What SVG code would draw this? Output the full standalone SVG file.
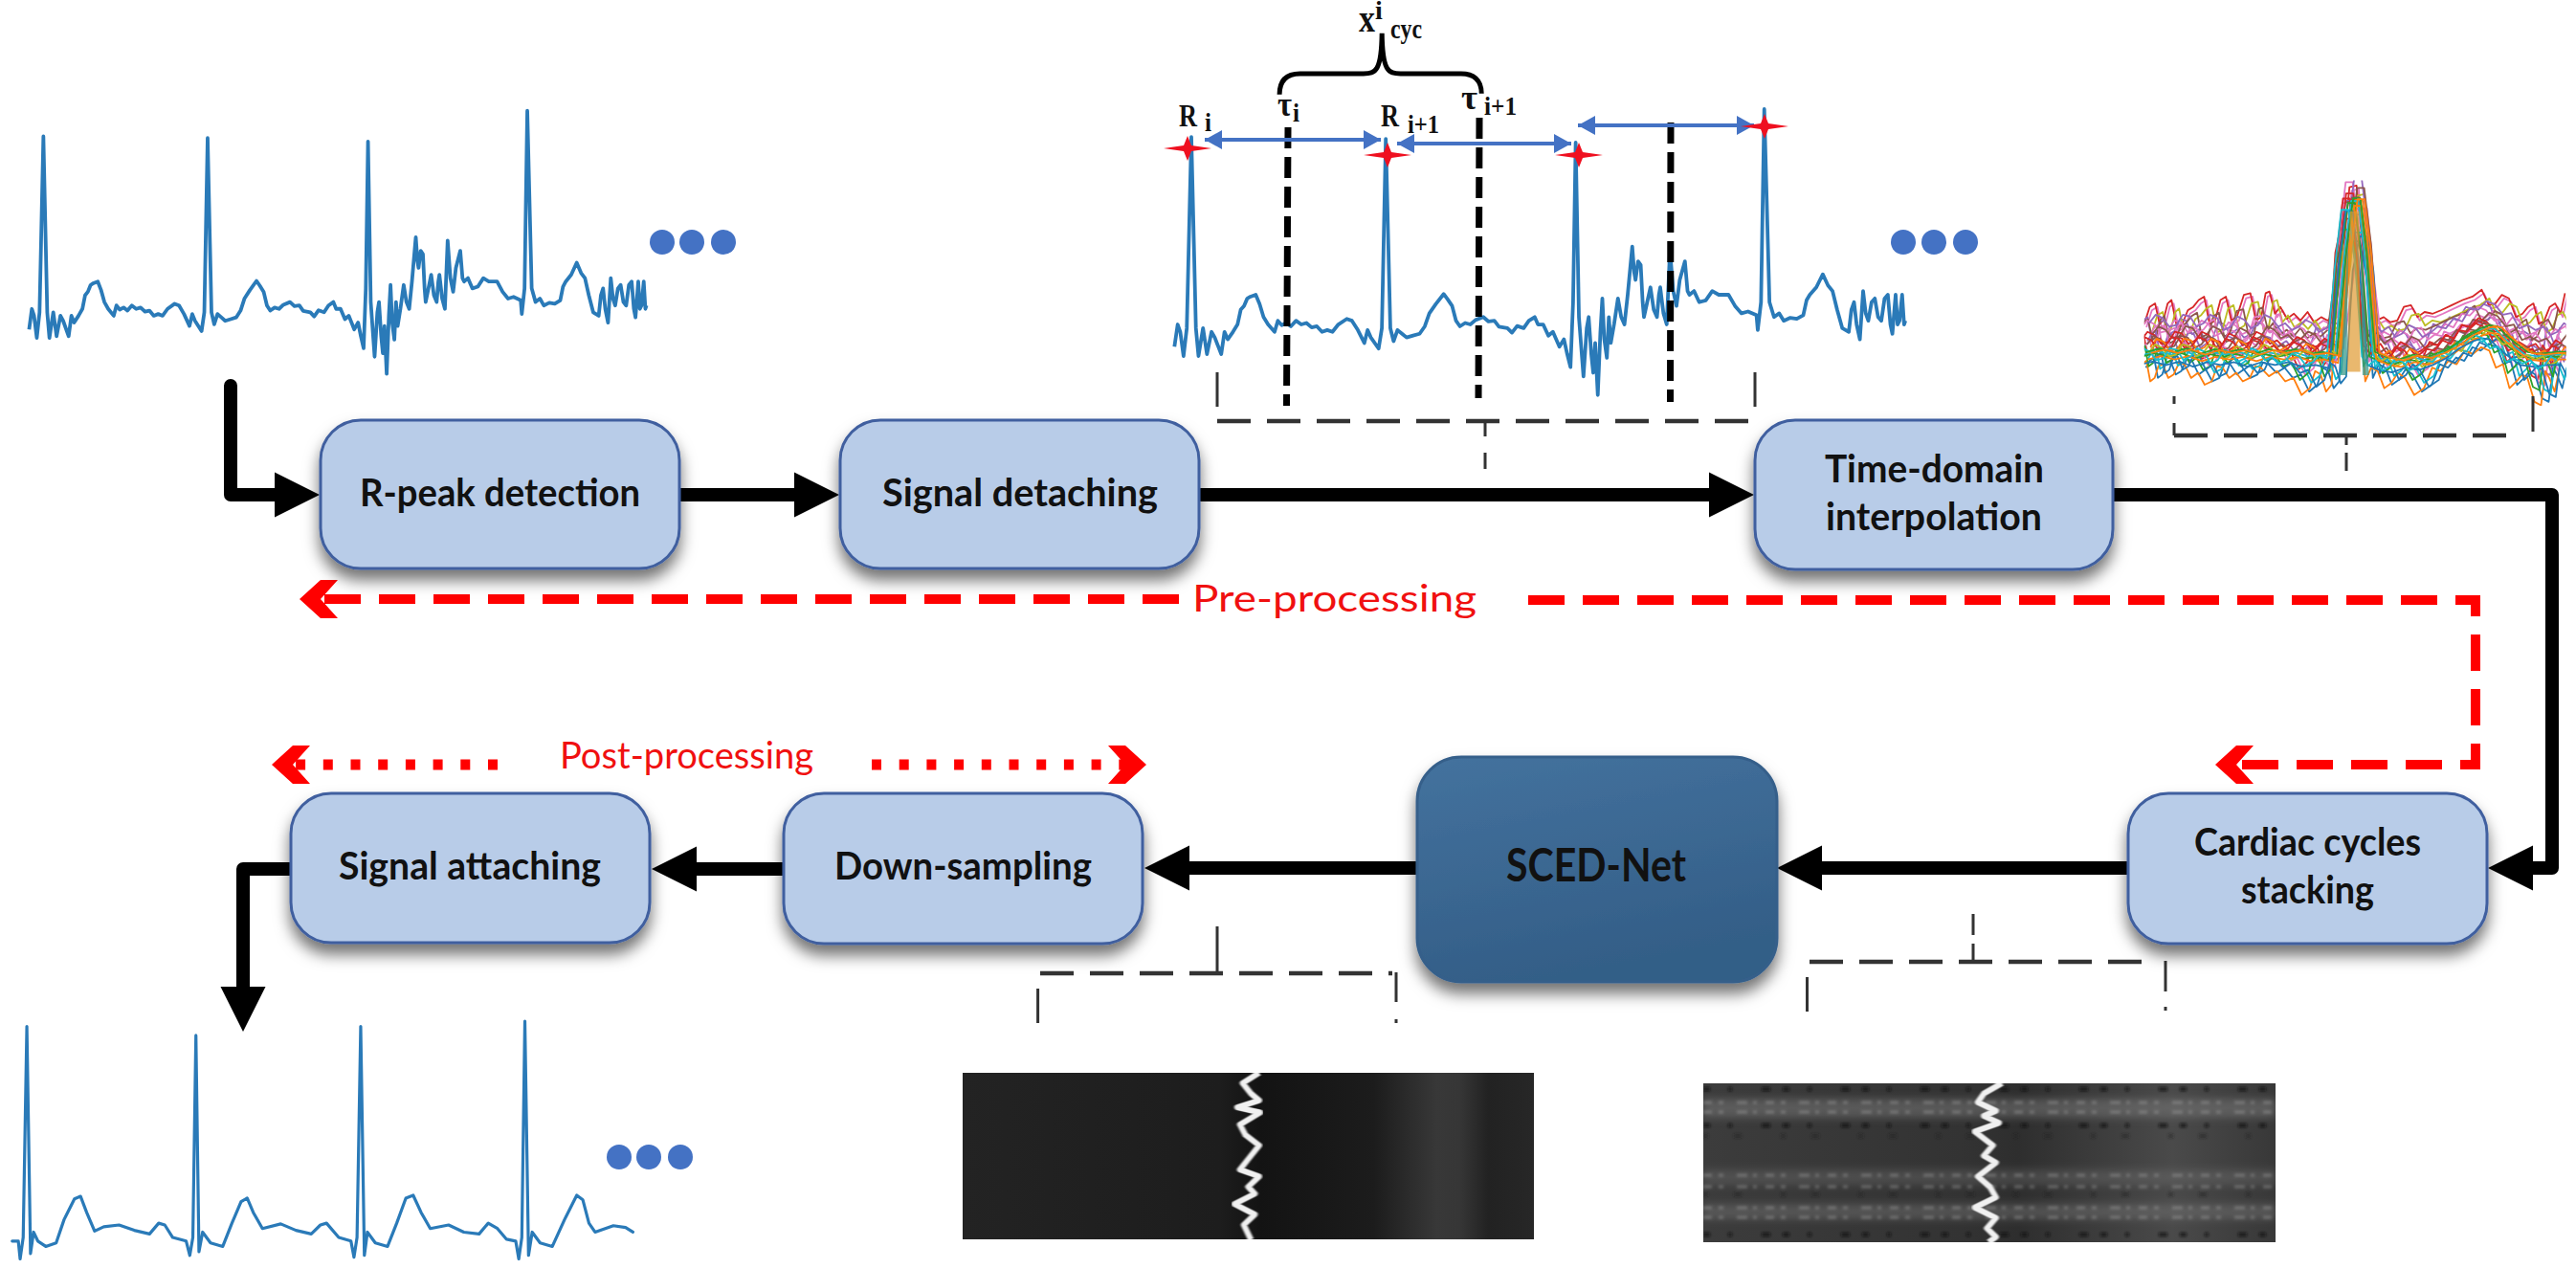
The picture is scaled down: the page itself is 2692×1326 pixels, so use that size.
<svg xmlns="http://www.w3.org/2000/svg" xmlns:xlink="http://www.w3.org/1999/xlink" width="2692" height="1326" viewBox="0 0 2692 1326">
<style>
.node{fill:#b8cce8;stroke:#3f5f9f;stroke-width:3;filter:url(#sh)}
.lab{font-family:"Lato","Noto Sans",sans-serif;font-weight:700;fill:#111;text-anchor:start}
.red{font-family:"Lato","Noto Sans",sans-serif;font-size:38px;fill:#f01010}
.serif{font-family:"Liberation Serif",serif;font-weight:700;fill:#111}
.thick{fill:none;stroke:#000;stroke-width:14;stroke-linecap:round;stroke-linejoin:round;marker-end:url(#ah)}
.rd{fill:none;stroke:#f00;stroke-width:10;stroke-dasharray:38 19;marker-end:url(#ch)}
.rp{fill:none;stroke:#f00;stroke-width:11;stroke-dasharray:10 18.7;marker-end:url(#ch)}
.thin{fill:none;stroke:#333;stroke-width:3}
.dsh{fill:none;stroke:#333;stroke-width:4.5;stroke-dasharray:35 17}
.bd{stroke:#000;stroke-width:7;stroke-dasharray:22 9;fill:none}
.bl{stroke:#4472c4;stroke-width:4;fill:none;marker-start:url(#ba);marker-end:url(#ba)}
.ecg{fill:none;stroke:#2a7ab8;stroke-width:3.8;stroke-linejoin:round;vector-effect:non-scaling-stroke}
.ecg2{fill:none;stroke:#2a7ab8;stroke-width:3.2;stroke-linejoin:round;vector-effect:non-scaling-stroke}
.cy{fill:none;stroke-width:1.8;stroke-linejoin:round;vector-effect:non-scaling-stroke}
.dot{fill:#4472c4}
.zig{fill:none;stroke:#f0f0f0;stroke-width:6;stroke-linejoin:round;vector-effect:non-scaling-stroke;filter:url(#b1)}
</style>
<defs>
<filter id="sh" x="-15%" y="-15%" width="130%" height="140%"><feDropShadow dx="0" dy="11" stdDeviation="8" flood-color="#000" flood-opacity="0.55"/></filter>
<filter id="b1"><feGaussianBlur stdDeviation="1.4"/></filter>
<filter id="b2"><feGaussianBlur stdDeviation="1.5"/></filter>
<filter id="b4" x="-5%" y="-50%" width="110%" height="200%"><feGaussianBlur stdDeviation="4"/></filter>
<marker id="ah" markerUnits="userSpaceOnUse" markerWidth="47" markerHeight="47" viewBox="0 0 47 47" refX="0" refY="23.5" orient="auto" overflow="visible"><path d="M0 0L47 23.5L0 47z" fill="#000"/></marker>
<marker id="ch" markerUnits="userSpaceOnUse" markerWidth="40" markerHeight="40" viewBox="0 0 40 40" refX="18" refY="20" orient="auto"><path d="M40 20L18 0H0L18 20L0 40H18z" fill="#f00"/></marker>
<marker id="ba" markerUnits="userSpaceOnUse" markerWidth="18" markerHeight="20" viewBox="0 0 18 20" refX="18" refY="10" orient="auto-start-reverse"><path d="M0 0L18 10L0 20z" fill="#4472c4"/></marker>
<linearGradient id="sced" x1="0" y1="0" x2="0.3" y2="1"><stop offset="0" stop-color="#44729e"/><stop offset="1" stop-color="#335e87"/></linearGradient>
<linearGradient id="hm1" x1="0" x2="1" y1="0" y2="0"><stop offset="0" stop-color="#232323"/><stop offset=".45" stop-color="#1d1d1d"/><stop offset=".52" stop-color="#131313"/><stop offset=".72" stop-color="#1c1c1c"/><stop offset=".83" stop-color="#383838"/><stop offset=".87" stop-color="#363636"/><stop offset=".92" stop-color="#222"/><stop offset="1" stop-color="#272727"/></linearGradient>
<linearGradient id="hm2" x1="0" x2="1" y1="0" y2="0"><stop offset="0" stop-color="#3c3c3c"/><stop offset=".45" stop-color="#333"/><stop offset=".55" stop-color="#2e2e2e"/><stop offset=".82" stop-color="#4a4a4a"/><stop offset="1" stop-color="#383838"/></linearGradient>
<clipPath id="c1"><rect x="1006" y="1121" width="597" height="174"/></clipPath>
<clipPath id="c2"><rect x="1780" y="1132" width="598" height="166"/></clipPath>
<path id="e1" class="ecg" d="M53 740L58 680 62 700 67 765 72 690 79 175 86 690 90 765 97 690 103 760 110 700 115 715 125 760 130 700 135 720 143 700 150 680 155 640 160 630 165 610 170 605 178 600 184 625 190 660 197 680 207 700 212 670 218 682 225 676 232 685 240 670 248 680 256 676 264 688 272 685 280 700 288 695 296 700 305 680 318 665 326 670 335 695 345 730 350 695 355 715 367 745 372 690 378 180 385 690 390 725 396 695 403 705 410 715 420 710 430 705 438 685 445 650 455 625 467 598 473 612 480 630 486 670 492 685 500 676 508 680 516 668 528 660 536 672 545 670 552 686 565 690 572 702 580 684 590 690 598 670 607 660 612 680 620 680 628 710 635 700 645 740 652 720 657 760 662 795 666 620 670 190 675 660 682 820 687 690 690 660 694 760 697 810 700 730 704 870 708 700 711 610 714 720 718 770 721 660 724 730 729 680 735 610 740 660 745 680 750 600 757 470 760 540 762 560 766 510 770 520 773 620 775 660 780 620 785 580 790 640 795 660 798 600 800 580 805 650 810 680 813 560 815 480 820 590 825 630 830 560 838 510 842 590 845 600 852 590 860 620 870 615 880 590 890 600 905 600 915 630 925 650 935 645 948 655 950 695 955 620 960 100 968 620 975 660 983 650 990 670 1000 662 1010 665 1020 655 1025 615 1030 600 1040 580 1050 545 1058 575 1065 590 1072 640 1080 690 1090 700 1094 640 1098 620 1102 680 1107 720 1112 590 1116 650 1120 670 1125 620 1130 610 1135 660 1140 670 1145 610 1150 600 1154 680 1157 705 1162 600 1165 680 1168 670 1172 600 1175 680 1177 670"/>
<path id="p1" class="cy" d="M775 500L785 450 795 440 803 500 810 490 818 440 825 430 835 510 845 500 855 460 865 450 875 430 885 420 895 500 905 490 915 430 925 420 935 490 945 480 958 415 970 410 980 490 990 480 998 410 1005 405 1015 470 1025 450 1037 485 1050 470 1062 490 1075 465 1087 495 1100 480 1112 490 1125 470 1140 300 1152 100 1165 95 1178 300 1190 460 1202 490 1215 480 1227 495 1240 490 1252 450 1265 445 1277 480 1290 465 1305 470 1320 460 1340 445 1360 430 1378 420 1395 400 1408 445 1420 440 1432 415 1445 425 1458 480 1470 470 1480 450 1490 440 1500 500 1510 490 1520 450 1530 440 1540 470 1548 410"/>
<path id="p2" class="cy" d="M775 560L787 535 800 545 812 570 825 565 837 535 850 540 862 570 875 560 887 535 900 545 912 580 925 570 937 540 950 550 962 575 975 565 987 535 1000 545 1012 570 1025 560 1037 580 1050 570 1062 550 1075 560 1087 585 1100 575 1112 555 1125 565 1140 300 1152 130 1165 130 1178 300 1190 560 1202 585 1215 570 1227 600 1240 590 1252 565 1265 575 1277 600 1290 590 1305 570 1320 575 1335 545 1350 555 1365 515 1380 520 1395 495 1410 505 1425 535 1440 530 1455 575 1470 565 1485 580 1500 570 1512 595 1525 585 1537 560 1548 570"/>
<path id="p3" class="cy" d="M775 620L782 600 790 590 797 650 805 640 812 605 820 600 830 640 840 630 850 595 860 600 872 640 885 625 897 660 910 650 920 605 930 610 942 640 955 625 967 650 980 640 990 605 1000 610 1015 635 1030 620 1045 650 1060 640 1075 690 1090 670 1100 620 1110 630 1120 680 1130 660 1142 350 1155 250 1168 250 1180 350 1192 650 1203 610 1215 620 1227 670 1240 655 1252 625 1265 640 1282 690 1300 670 1315 610 1330 620 1345 590 1360 600 1375 560 1390 570 1405 550 1420 560 1432 610 1445 600 1457 670 1470 650 1480 630 1490 640 1503 710 1515 720 1523 620 1530 640 1540 680 1548 620"/>
<path id="p4" class="cy" d="M775 590L800 580 825 590 850 580 875 595 900 582 925 590 950 582 975 595 1000 582 1025 590 1050 582 1075 595 1100 590 1125 600 1142 300 1155 140 1168 140 1180 300 1195 590 1217 605 1240 612 1265 598 1290 605 1315 590 1340 570 1365 540 1390 520 1405 512 1420 515 1435 540 1450 560 1475 590 1500 595 1525 590 1548 590"/>
<path id="star" d="M0 -13L4 -3 25 0 4 3 0 13 -4 3 -25 0 -4 -3z" fill="#ef1020"/>
<clipPath id="c3"><rect x="775" y="80" width="775" height="660"/></clipPath>
</defs>

<rect width="2692" height="1326" fill="#fff"/>

<g id="signal-input"><use href="#e1" transform="translate(0,80) scale(0.574,0.357)"/>
<circle class="dot" cx="692" cy="253" r="13"/><circle class="dot" cx="723" cy="253" r="13"/><circle class="dot" cx="756" cy="253" r="13"/></g>

<g id="signal-annotated">
<use href="#e1" transform="translate(1191.3,75.2) scale(0.6796,0.388)"/>
<circle class="dot" cx="1989" cy="253" r="13"/><circle class="dot" cx="2021" cy="253" r="13"/><circle class="dot" cx="2054" cy="253" r="13"/>
<path class="bd" d="M1346 133L1344.500 424"/><path class="bd" d="M1546 123L1545 416"/><path class="bd" d="M1746 128L1745.500 420"/>
<path class="bl" d="M1259 146H1443"/><path class="bl" d="M1460 150H1642"/><path class="bl" d="M1649 131H1833"/>
<use href="#star" x="1241" y="155"/><use href="#star" x="1450" y="162"/><use href="#star" x="1650" y="162"/><use href="#star" x="1844" y="132"/>
<path transform="translate(1180,0) scale(.51,.3317)" fill="none" stroke="#000" stroke-width="5" style="vector-effect:non-scaling-stroke" d="M308 298C308 250 325 232 350 232H480C505 232 517 225 518 105C519 225 531 232 556 232H680C705 232 722 250 722 295"/>
<text class="serif" x="1420" y="33" font-size="40" textLength="17" lengthAdjust="spacingAndGlyphs">x</text><text class="serif" x="1437" y="20" font-size="28">i</text><text class="serif" x="1453" y="40" font-size="30" textLength="33" lengthAdjust="spacingAndGlyphs">cyc</text>
<text class="serif" x="1232" y="132" font-size="34" textLength="19" lengthAdjust="spacingAndGlyphs">R</text><text class="serif" x="1259" y="137" font-size="28" textLength="7" lengthAdjust="spacingAndGlyphs">i</text>
<text class="serif" x="1335" y="121" font-size="36" textLength="15" lengthAdjust="spacingAndGlyphs">τ</text><text class="serif" x="1351" y="127" font-size="28" textLength="7" lengthAdjust="spacingAndGlyphs">i</text>
<text class="serif" x="1443" y="132" font-size="34" textLength="19" lengthAdjust="spacingAndGlyphs">R</text><text class="serif" x="1471" y="139" font-size="28" textLength="33" lengthAdjust="spacingAndGlyphs">i+1</text>
<text class="serif" x="1527" y="114" font-size="36" textLength="17" lengthAdjust="spacingAndGlyphs">τ</text><text class="serif" x="1551" y="120" font-size="28" textLength="34" lengthAdjust="spacingAndGlyphs">i+1</text>
</g>

<g id="cycles-plot"><g transform="translate(1800,160) scale(.5688,.357)"><g clip-path="url(#c3)">
<use href="#p1" stroke="#e377c2" transform="translate(4,10)"/><use href="#p1" stroke="#d62728"/><use href="#p3" stroke="#9467bd" transform="translate(-9,-110)"/>
<use href="#p1" stroke="#bcbd22" transform="translate(14,25)"/><use href="#p3" stroke="#e377c2" transform="translate(11,-88)"/><use href="#p1" stroke="#8c564b" transform="translate(-13,47)"/>
<use href="#p3" stroke="#9467bd" transform="translate(6,-70)"/><use href="#p1" stroke="#e377c2" transform="translate(19,66)"/><use href="#p3" stroke="#d62728" transform="translate(-16,-58)"/>
<use href="#p2" stroke="#e377c2" transform="translate(-7,-45)"/><use href="#p2" stroke="#9467bd" transform="translate(9,-62)"/><use href="#p3" stroke="#e377c2" transform="translate(-4,-40)"/><use href="#p2" stroke="#8c564b" transform="translate(14,-28)"/>
<use href="#p3" stroke="#1f77b4" transform="translate(3,8)"/><use href="#p3" stroke="#ff7f0e" transform="translate(-11,18)"/><use href="#p3" stroke="#17becf" transform="translate(7,-18)"/><use href="#p3" stroke="#2ca02c" transform="translate(-14,-26)"/><use href="#p3" stroke="#1f77b4" transform="translate(16,-6)"/>
<use href="#p2" stroke="#d62728" transform="translate(-6,-12)"/><use href="#p2" stroke="#8c564b" transform="translate(5,0)"/><use href="#p2" stroke="#ff7f0e" transform="translate(11,8)"/><use href="#p2" stroke="#d62728" transform="translate(-12,3)"/>
<use href="#p4" stroke="#17becf"/><use href="#p4" stroke="#2ca02c" transform="translate(-6,6)"/><use href="#p2" stroke="#bcbd22" transform="translate(8,25)"/><use href="#p4" stroke="#ff7f0e" transform="translate(6,14)"/><use href="#p4" stroke="#1f77b4" transform="translate(-10,30)"/><use href="#p2" stroke="#17becf" transform="translate(-15,36)"/><use href="#p4" stroke="#2ca02c" transform="translate(4,-8)"/><use href="#p4" stroke="#ff7f0e" transform="translate(12,-5)"/>
<path d="M1148 640L1153 170 1170 170 1172 640z" fill="#e09a30" opacity=".7"/><path d="M1135 650L1150 250 1147 650zM1188 650L1172 250 1176 650z" fill="#3a9a8a" opacity=".75"/>
</g></g></g>

<g id="signal-output"><g transform="translate(0,740) scale(0.6378,0.3737)">
<path class="ecg2" d="M20 1490L30 1490 33 1540 38 1480 44 890 50 1525 55 1465 62 1490 75 1505 92 1495 105 1430 122 1372 132 1365 142 1410 155 1462 170 1450 195 1445 220 1460 245 1470 260 1440 270 1445 283 1480 305 1490 311 1530 316 1480 321 915 326 1520 332 1465 345 1495 365 1505 380 1440 395 1380 405 1370 415 1410 430 1455 460 1442 485 1460 510 1470 525 1445 535 1440 555 1480 575 1490 580 1535 585 1480 591 890 597 1530 602 1465 615 1495 635 1505 650 1440 665 1370 677 1362 690 1410 705 1455 735 1445 760 1465 785 1470 800 1440 815 1455 830 1485 845 1490 850 1540 855 1480 860 875 866 1530 872 1465 885 1495 905 1505 925 1430 945 1362 955 1375 965 1440 975 1465 1005 1447 1025 1452 1037 1465" stroke-linecap="round"/></g>
<circle class="dot" cx="647" cy="1209" r="13"/><circle class="dot" cx="678" cy="1209" r="13"/><circle class="dot" cx="711" cy="1209" r="13"/></g>

<g id="heatmap-output" clip-path="url(#c1)">
<rect x="1006" y="1121" width="597" height="174" fill="url(#hm1)"/>
<g transform="translate(960,760) scale(.574,.361)"><path class="zig" d="M620 1000L590 1030 605 1060 620 1080 580 1100 622 1115 585 1150 595 1180 620 1210 600 1250 585 1280 620 1300 600 1330 612 1350 575 1380 612 1410 592 1440 605 1483"/></g>
</g>

<g id="heatmap-input" clip-path="url(#c2)">
<rect x="1780" y="1132" width="598" height="166" fill="url(#hm2)"/>
<rect x="1780" y="1148" width="598" height="20" fill="#7a7a7a" opacity=".5" filter="url(#b4)"/>
<rect x="1780" y="1222" width="598" height="16" fill="#777" opacity=".35" filter="url(#b4)"/>
<rect x="1780" y="1258" width="598" height="16" fill="#777" opacity=".45" filter="url(#b4)"/>
<g filter="url(#b2)">
<path d="M1780 1138H2378M1780 1176H2378M1780 1290H2378" stroke="#141414" stroke-width="4" stroke-dasharray="7 19 4 31 9 13" opacity=".8"/>
<path d="M1780 1152H2378M1780 1162H2378M1780 1228H2378M1780 1240H2378M1780 1262H2378M1780 1272H2378" stroke="#adadad" stroke-width="3" stroke-dasharray="9 7 5 14 11 6 4 9" opacity=".4"/>
<path d="M1780 1187H2378M1780 1248H2378" stroke="#1c1c1c" stroke-width="4" stroke-dasharray="5 27 8 41" opacity=".55"/>
</g>
<g transform="translate(1700,760) scale(.6325,.361)"><path class="zig" d="M620 1030L590 1060 580 1085 610 1110 590 1125 615 1145 575 1170 605 1210 590 1240 610 1260 580 1300 600 1330 610 1360 575 1390 610 1420 595 1450 610 1475 598 1490"/></g>
</g>

<g id="brackets">
<path class="thin" d="M1272 389V425M1834 389V425M1552 440V456M1552 473V490"/><path class="dsh" d="M1272 440H1834"/>
<path class="thin" d="M2272 414V422M2272 442V455M2647 414V451M2452 455V465M2452 473V492"/><path class="dsh" d="M2272 455H2633"/>
<path class="thin" d="M1084.600 1033V1069M1459 1016V1047M1459 1065V1069M1272 968V1017"/><path class="dsh" d="M1087 1017H1455"/>
<path class="thin" d="M1888.500 1021V1057M2263 1004V1036M2263 1052V1056M2062 955V977M2062 986V1005"/><path class="dsh" d="M1891 1005H2244"/>
</g>

<g id="connectors">
<path class="thick" d="M241 403V517H287"/>
<path class="thick" d="M706 517H830"/>
<path class="thick" d="M1255 517H1786"/>
<path class="thick" d="M2207 517H2667V907H2647"/>
<path class="thick" d="M2225 907H1904"/>
<path class="thick" d="M1483 907H1243"/>
<path class="thick" d="M823 908H728"/>
<path class="thick" d="M306 908H254V1031"/>
<path class="rd" d="M1232 626H335"/>
<path class="rd" d="M1597 627H2587V799H2337"/>
<path class="rp" d="M520 799H306"/>
<path class="rp" d="M911 799H1176"/>
</g>

<text class="red" x="1246" y="639" textLength="297" lengthAdjust="spacingAndGlyphs">Pre-processing</text>
<text class="red" x="585" y="803" textLength="265" lengthAdjust="spacingAndGlyphs">Post-processing</text>

<g id="node-rpeak"><rect class="node" x="335" y="439" width="375" height="155" rx="42"/><text class="lab" x="376" y="529" font-size="41" textLength="293" lengthAdjust="spacingAndGlyphs">R-peak detection</text></g>
<g id="node-detach"><rect class="node" x="878" y="439" width="375" height="155" rx="42"/><text class="lab" x="922" y="529" font-size="41" textLength="288" lengthAdjust="spacingAndGlyphs">Signal detaching</text></g>
<g id="node-interp"><rect class="node" x="1834" y="439" width="374" height="156" rx="42"/><text class="lab" x="1907" y="504" font-size="41" textLength="229" lengthAdjust="spacingAndGlyphs">Time-domain</text><text class="lab" x="1908" y="554" font-size="41" textLength="226" lengthAdjust="spacingAndGlyphs">interpolation</text></g>
<g id="node-stack"><rect class="node" x="2224" y="829" width="375" height="157" rx="42"/><text class="lab" x="2293" y="894" font-size="41" textLength="237" lengthAdjust="spacingAndGlyphs">Cardiac cycles</text><text class="lab" x="2342" y="944" font-size="41" textLength="139" lengthAdjust="spacingAndGlyphs">stacking</text></g>
<g id="node-sced"><rect class="node" style="fill:url(#sced);stroke:#365f8a" x="1481" y="791" width="376" height="235" rx="46"/><text class="lab" x="1574" y="921" font-size="47" textLength="188" lengthAdjust="spacingAndGlyphs">SCED-Net</text></g>
<g id="node-down"><rect class="node" x="819" y="829" width="375" height="157" rx="42"/><text class="lab" x="872" y="919" font-size="41" textLength="269" lengthAdjust="spacingAndGlyphs">Down-sampling</text></g>
<g id="node-attach"><rect class="node" x="304" y="829" width="375" height="156" rx="42"/><text class="lab" x="354" y="919" font-size="41" textLength="274" lengthAdjust="spacingAndGlyphs">Signal attaching</text></g>
</svg>
